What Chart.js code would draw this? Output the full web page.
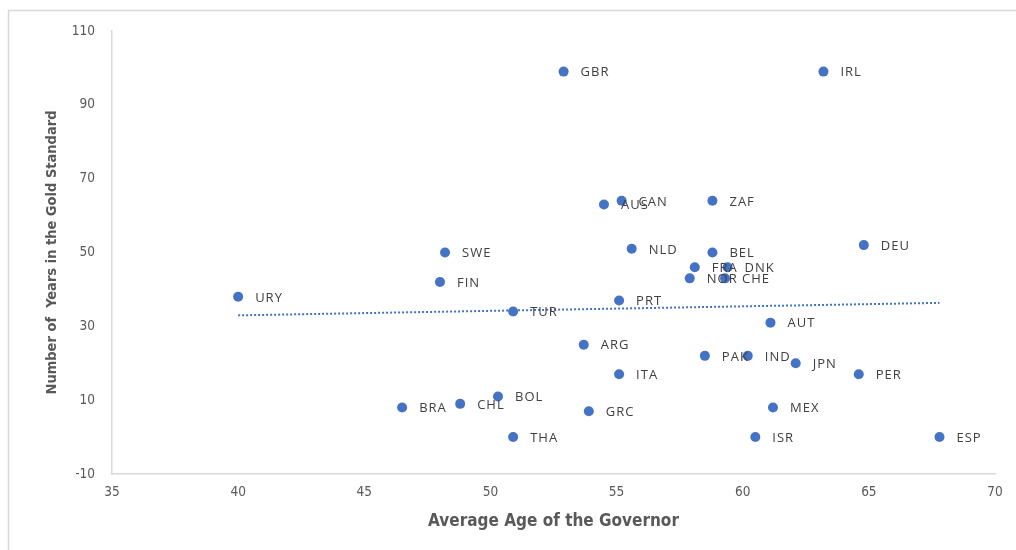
<!DOCTYPE html>
<html>
<head>
<meta charset="utf-8">
<script src="https://cdn.jsdelivr.net/npm/chart.js@4/dist/chart.umd.min.js"></script>
<style>
  html, body { margin: 0; padding: 0; background: #fff; }
  #wrap { width: 1016px; height: 550px; position: relative; }
</style>
</head>
<body>
<div id="wrap"><canvas id="myChart" width="1016" height="550"></canvas></div>
<script>
// country codes, avg governor age (x), years on gold standard (y)
var paises = ['GBR','IRL','CAN','AUS','ZAF','NLD','BEL','DEU','FRA','DNK','NOR','CHE','PRT','SWE','FIN','URY','TUR','AUT','ARG','PAK','IND','JPN','ITA','PER','BOL','BRA','CHL','GRC','MEX','THA','ISR','ESP'];
var edad   = [52.9, 63.2, 55.2, 54.5, 58.8, 55.6, 58.8, 64.8, 58.1, 59.4, 57.9, 59.3, 55.1, 48.2, 48.0, 40.0, 50.9, 61.1, 53.7, 58.5, 60.2, 62.1, 55.1, 64.6, 50.3, 46.5, 48.8, 53.9, 61.2, 50.9, 60.5, 67.8];
var anios  = [99, 99, 64, 63, 64, 51, 50, 52, 46, 46, 43, 43, 37, 50, 42, 38, 34, 31, 25, 22, 22, 20, 17, 17, 11, 8, 9, 7, 8, 0, 0, 0];
var xTicks = [35, 70, 5];
var yTicks = [-10, 110, 20];

var azul = '#4472C4';
var gris = '#595959';
var fuente = '"Liberation Sans Narrow", "DejaVu Sans Condensed", "Liberation Sans", sans-serif';

var puntos = [];
for (let i = 0; i < edad.length; i++) {
    puntos.push({x: edad[i], y: anios[i]});
}

// linear trendline (least squares), like the spreadsheet one
var n = edad.length, sx = 0, sy = 0, sxy = 0, sxx = 0;
for (let i = 0; i < n; i++) {
    sx += edad[i]; sy += anios[i]; sxy += edad[i]*anios[i]; sxx += edad[i]*edad[i];
}
var pend = (n*sxy - sx*sy) / (n*sxx - sx*sx);
var corte = (sy - pend*sx) / n;
var xMin = Math.min.apply(null, edad), xMax = Math.max.apply(null, edad);
var tendencia = [{x: xMin, y: corte + pend*xMin}, {x: xMax, y: corte + pend*xMax}];

var marco = {
    id: 'marco',
    beforeDraw: function(chart) {
        var c = chart.ctx;
        c.save();
        c.fillStyle = '#fff';
        c.fillRect(0, 0, chart.width, chart.height);
        c.strokeStyle = '#d9d9d9';
        c.lineWidth = 1.5;
        c.strokeRect(8.5, 10.5, chart.width + 10, chart.height + 10);
        c.restore();
    }
};

var etiquetas = {
    id: 'etiquetas',
    afterDatasetsDraw: function(chart) {
        var c = chart.ctx;
        var meta = chart.getDatasetMeta(1);
        c.save();
        c.font = '13px "Open Sans", sans-serif';
        c.fillStyle = '#404040';
        c.textBaseline = 'middle';
        c.textAlign = 'left';
        if ('letterSpacing' in c) c.letterSpacing = '1px';
        meta.data.forEach(function(p, i) {
            c.fillText(paises[i], p.x + 17, p.y + 1);
        });
        c.restore();
    }
};

var ctx = document.getElementById('myChart').getContext('2d');
var chart = new Chart(ctx, {
    type: 'scatter',
    data: {
        datasets: [{
            type: 'line',
            label: 'tendencia',
            data: tendencia,
            borderColor: azul,
            borderWidth: 2,
            borderDash: [2, 2],
            pointRadius: 0,
            fill: false
        }, {
            label: 'paises',
            data: puntos,
            backgroundColor: azul,
            borderColor: azul,
            borderWidth: 0,
            pointRadius: 5,
            pointHoverRadius: 5
        }]
    },
    options: {
        responsive: false,
        animation: false,
        layout: { padding: { left: 40, right: 21, top: 31, bottom: 14 } },
        plugins: { legend: { display: false }, tooltip: { enabled: false } },
        scales: {
            x: {
                type: 'linear',
                min: xTicks[0], max: xTicks[1],
                ticks: { stepSize: xTicks[2], color: gris, font: { family: fuente, size: 13.5 }, padding: 10 },
                grid: { display: false, drawTicks: false },
                border: { color: '#d9d9d9', width: 1.5 },
                title: { display: true, text: 'Average Age of the Governor', color: gris, font: { family: fuente, size: 17, weight: 'bold' }, padding: { top: 8 } },
                afterFit: function(s) { s.height = 62; }
            },
            y: {
                min: yTicks[0], max: yTicks[1],
                ticks: { stepSize: yTicks[2], color: gris, font: { family: fuente, size: 13.5 }, padding: 17 },
                grid: { display: false, drawTicks: false },
                border: { color: '#d9d9d9', width: 1.5 },
                title: { display: true, text: 'Number of  Years in the Gold Standard', color: gris, font: { family: fuente, size: 14.5, weight: 'bold' }, padding: { bottom: 4 } },
                afterFit: function(s) { s.width = 72; }
            }
        }
    },
    plugins: [marco, etiquetas]
});
</script>
</body>
</html>
